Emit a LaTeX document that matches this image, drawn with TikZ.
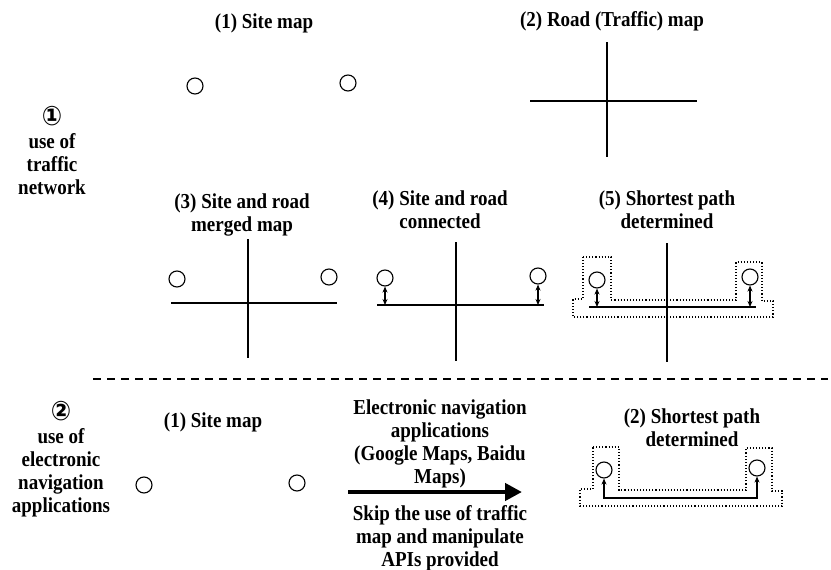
\documentclass[tikz,border=0pt]{standalone}
\usepackage{fontspec}
\usepackage{graphicx}
\setmainfont{Liberation Serif}
\newfontfamily\symfont{DejaVu Sans}
\usetikzlibrary{arrows.meta}
\newcommand{\vtext}[1]{\scalebox{1}[1.12]{\begin{tabular}{@{}c@{}}#1\end{tabular}}}
\newcommand{\circnum}[1]{{\symfont\fontsize{24}{20.5}\selectfont #1}}
\begin{document}
\begin{tikzpicture}[x=1pt,y=-1pt,
  lbl/.style={font=\fontsize{19}{20.6}\selectfont\bfseries, align=center, inner sep=0pt},
  site/.style={draw, circle, minimum size=16pt, inner sep=0pt, line width=1.1pt},
  road/.style={line width=1.6pt},
  link/.style={line width=1.2pt, {Stealth[length=6pt,width=5pt]}-{Stealth[length=6pt,width=5pt]}},
  zone/.style={dotted, line width=1.1pt},
  sep/.style={line width=2pt, dash pattern=on 8pt off 6pt},
  big/.style={line width=4.5pt, -{Triangle[length=17pt,width=17pt]}}]
\useasboundingbox (0,0) rectangle (831,570);

% ---------- left labels ----------
\node[lbl] (L1) at (52,154) {\vtext{\circnum{①}\\use of\\traffic\\network}};
\node[lbl] (L2) at (61,460) {\vtext{\circnum{②}\\use of\\electronic\\navigation\\applications}};

% ---------- (1) site map ----------
\node[lbl] (T1) at (264,24) {\vtext{(1) Site map}};
\node[site] (s1a) at (195,86) {};
\node[site] (s1b) at (348,83) {};

% ---------- (2) road map ----------
\node[lbl] (T2) at (612,22) {\vtext{(2) Road (Traffic) map}};
\coordinate (r2w) at (530,101); \coordinate (r2e) at (697,101);
\coordinate (r2n) at (607,42);  \coordinate (r2s) at (607,157);
\draw[road] (r2w) -- (r2e);
\draw[road] (r2n) -- (r2s);

% ---------- (3) merged ----------
\node[lbl] (T3) at (242,215) {\vtext{(3) Site and road\\merged map}};
\coordinate (r3w) at (171,303); \coordinate (r3e) at (337,303);
\coordinate (r3n) at (248,239); \coordinate (r3s) at (248,358);
\draw[road] (r3w) -- (r3e);
\draw[road] (r3n) -- (r3s);
\node[site] (s3a) at (177,279) {};
\node[site] (s3b) at (329,277) {};

% ---------- (4) connected ----------
\node[lbl] (T4) at (440,212) {\vtext{(4) Site and road\\connected}};
\coordinate (r4w) at (377,305); \coordinate (r4e) at (544,305);
\coordinate (r4n) at (456,242); \coordinate (r4s) at (456,361);
\draw[road] (r4w) -- (r4e);
\draw[road] (r4n) -- (r4s);
\node[site] (s4a) at (385,278) {};
\node[site] (s4b) at (538,276) {};
\draw[link] (s4a.south) -- (s4a.south |- r4w);
\draw[link] (s4b.south) -- (s4b.south |- r4w);

% ---------- (5) shortest path ----------
\node[lbl] (T5) at (667,212) {\vtext{(5) Shortest path\\determined}};
\coordinate (r5w) at (589,307); \coordinate (r5e) at (756,307);
\coordinate (r5n) at (667,243); \coordinate (r5s) at (667,362);
\draw[line width=2pt] (r5w) -- (r5e);
\draw[road] (r5n) -- (r5s);
\node[site] (s5a) at (597,280) {};
\node[site] (s5b) at (750,277) {};
\draw[link] (s5a.south) -- (s5a.south |- r5w);
\draw[link] (s5b.south) -- (s5b.south |- r5w);
\draw[zone] (583,257) -- (611,257) -- (611,300) -- (736,300) -- (736,262)
  -- (762,262) -- (762,301) -- (773,301) -- (773,317) -- (573,317)
  -- (573,299) -- (583,299) -- cycle;

% ---------- separator ----------
\coordinate (sepA) at (93,379); \coordinate (sepB) at (828,379);
\draw[sep] (sepA) -- (sepB);

% ---------- bottom (1) site map ----------
\node[lbl] (B1) at (213,423) {\vtext{(1) Site map}};
\node[site] (b1a) at (144,485) {};
\node[site] (b1b) at (297,483) {};

% ---------- middle arrow ----------
\node[lbl] (M1) at (440,444) {\vtext{Electronic navigation\\applications\\(Google Maps, Baidu\\Maps)}};
\node[lbl] (M2) at (440,539) {\vtext{Skip the use of traffic\\map and manipulate\\APIs provided}};
\coordinate (arA) at (348,492); \coordinate (arB) at (522,492);
\draw[big] (arA) -- (arB);

% ---------- bottom (2) shortest path ----------
\node[lbl] (B2) at (692,430) {\vtext{(2) Shortest path\\determined}};
\node[site] (b2a) at (604,470) {};
\node[site] (b2b) at (757,468) {};
\coordinate (pathy) at (0,498);
\draw[link] (b2a.south) -- (b2a.south |- pathy) -- (b2b.south |- pathy) -- (b2b.south);
\draw[zone] (593,447) -- (619,447) -- (619,490) -- (746,490) -- (746,448)
  -- (772,448) -- (772,491) -- (782,491) -- (782,506) -- (580,506)
  -- (580,489) -- (593,489) -- cycle;
\end{tikzpicture}
\end{document}
